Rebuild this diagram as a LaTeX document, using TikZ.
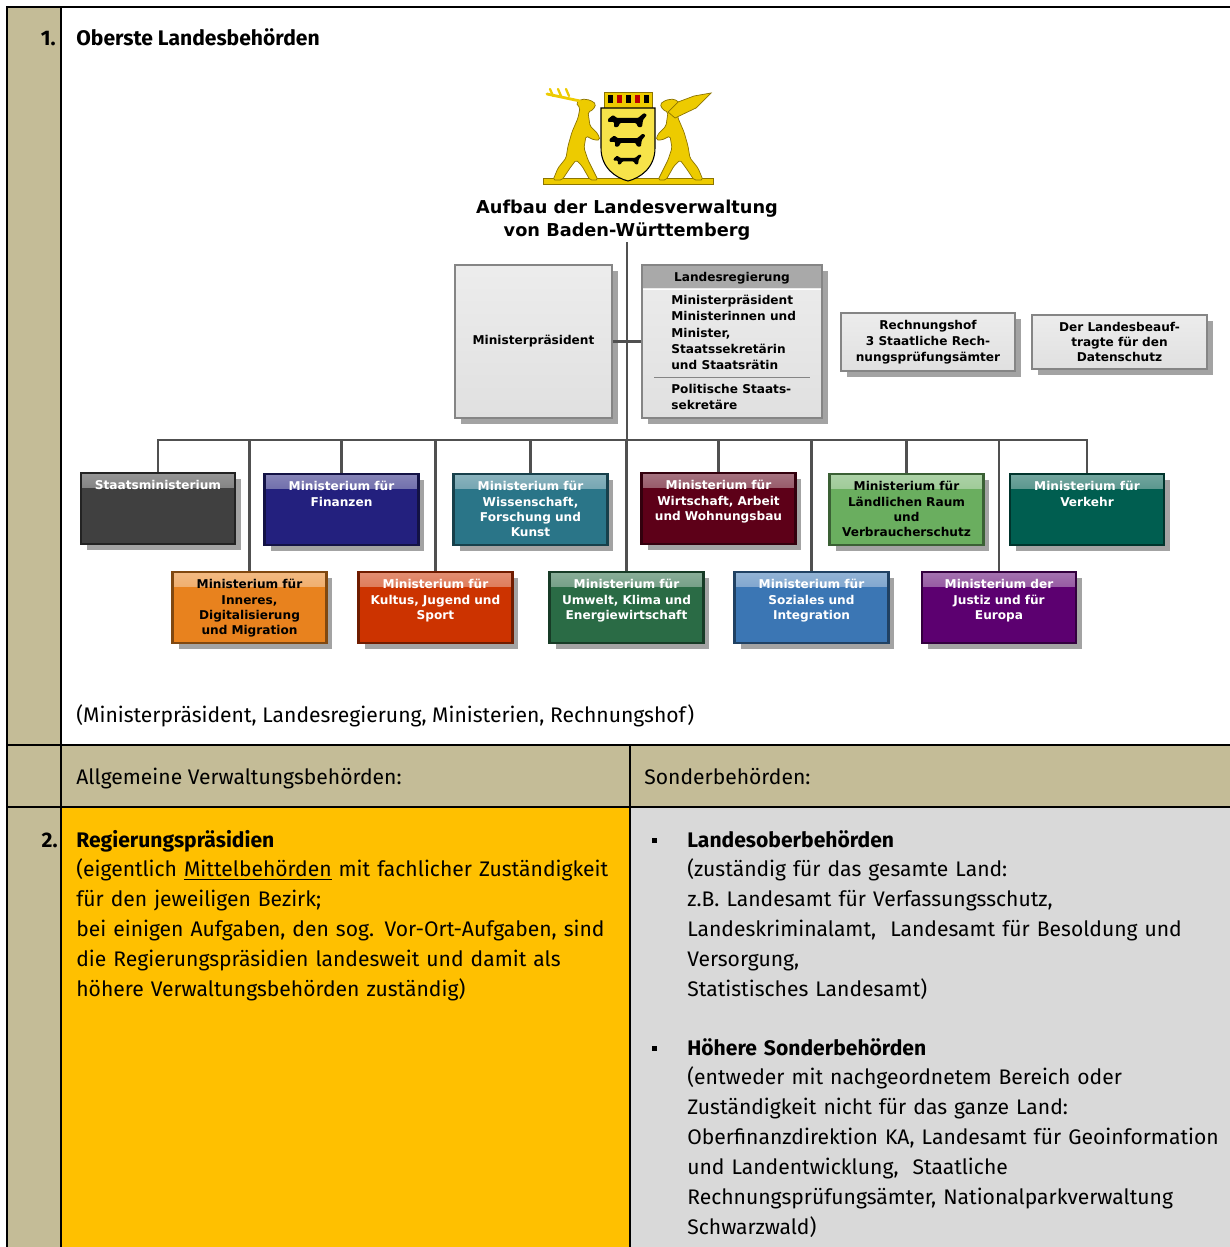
\documentclass[tikz,border=0pt]{standalone}
\usepackage{fontspec}
\setmainfont{Fira Sans}
\newfontfamily\chartfont{DejaVu Sans}
\usetikzlibrary{positioning,shadows}

\definecolor{tanbg}{HTML}{C4BC97}
\definecolor{orangebg}{HTML}{FFC000}
\definecolor{greybg}{HTML}{D9D9D9}
\definecolor{linegray}{HTML}{505050}
\definecolor{boxgray}{HTML}{E0E0E0}
\definecolor{framegray}{HTML}{858585}
\definecolor{headgray}{HTML}{A9A9A9}
\definecolor{armgold}{HTML}{EDCB00}
\definecolor{armdark}{HTML}{8C7400}
\definecolor{shieldgold}{HTML}{F7E34A}
\definecolor{staatcol}{HTML}{404040}
\definecolor{fincol}{HTML}{23207E}
\definecolor{wisscol}{HTML}{2A7588}
\definecolor{wirtcol}{HTML}{5D0018}
\definecolor{laendcol}{HTML}{6AAE5F}
\definecolor{verkcol}{HTML}{005E50}
\definecolor{inncol}{HTML}{E8821E}
\definecolor{kultcol}{HTML}{CC3300}
\definecolor{umwcol}{HTML}{2A6B45}
\definecolor{sozicol}{HTML}{3B76B4}
\definecolor{justcol}{HTML}{5C0070}

\newcommand{\chartsize}{\fontsize{6.9}{8.6}\selectfont}

\begin{document}
\begin{tikzpicture}[x=0.02cm, y=-0.02cm,
rule/.style = {line width=1.1pt},
conn/.style = {draw=linegray, line width=1.6pt},
shade box/.style = {drop shadow={shadow xshift=0.12cm, shadow yshift=-0.12cm, opacity=0.45, fill=black!80}},
grey box/.style = {top color=boxgray!60!white, bottom color=boxgray, draw=framegray, line width=1pt, shade box,
    font=\chartfont\bfseries\chartsize, align=center},
chart text/.style = {font=\chartfont\bfseries\chartsize, inner sep=0pt},
mbox/.style = {fill=#1, draw=#1!55!black, line width=1.2pt, shade box, anchor=north,
    text width=2.9cm, inner xsep=0.09cm, inner ysep=0pt, text height=9.6pt, text depth=30.6pt,
    align=center, text=white, font=\chartfont\bfseries\chartsize,
    path picture={\shade[top color=white!45!#1, bottom color=#1] (path picture bounding box.north west)
        rectangle ([yshift=-8pt]path picture bounding box.north east);}},
body/.style = {font=\fontsize{12}{17}\selectfont, inner sep=0pt, anchor=base west},
para/.style = {body, text width=12cm, align=left},
bullet sq/.style = {fill=black, minimum size=0.1cm, inner sep=0pt}]

\useasboundingbox (0,0) rectangle (1230,1247);

% table cells
\fill[white] (0,0) rectangle (1230,1247);
\fill[tanbg] (7,7) rectangle (61,1247);
\fill[tanbg] (61,745) rectangle (1230,807);
\fill[orangebg] (61,807) rectangle (630,1247);
\fill[greybg] (630,807) rectangle (1230,1247);
\draw[rule] (1230,7) -- (7,7) -- (7,1247);
\draw[rule] (61,7) -- (61,1247);
\draw[rule] (7,745) -- (1230,745);
\draw[rule] (7,807) -- (1230,807);
\draw[rule] (630,745) -- (630,1247);

% coat of arms
\fill[armgold, draw=armdark, line width=0.3pt] (543,178) rectangle (713,184);
\fill[armgold, draw=armdark, line width=0.4pt, rounded corners=1pt]
    (553,180) -- (558,168) -- (566,158) -- (568,146) -- (572,132) -- (578,118) -- (580,108)
    -- (576,103) -- (582,99) -- (590,100) -- (596,104) -- (593,110) -- (588,112) -- (590,126)
    -- (598,134) -- (600,140) -- (594,140) -- (586,136) -- (584,148) -- (588,160) -- (594,172)
    -- (598,180) -- (590,180) -- (582,166) -- (576,160) -- (570,168) -- (562,180) -- cycle;
\draw[armgold, line width=1.6pt, line cap=round] (580,101) -- (547,94);
\foreach \ax in {553,561,569}
    \draw[armgold, line width=1.3pt, line cap=round] (\ax,96) -- (\ax-3,89);
\begin{scope}[shift={(1256,0)}, xscale=-1]
\fill[armgold, draw=armdark, line width=0.4pt, rounded corners=1pt]
    (553,180) -- (558,168) -- (566,158) -- (568,146) -- (572,132) -- (578,118) -- (580,108)
    -- (576,103) -- (582,99) -- (590,100) -- (596,104) -- (593,110) -- (588,112) -- (590,126)
    -- (598,134) -- (600,140) -- (594,140) -- (586,136) -- (584,148) -- (588,160) -- (594,172)
    -- (598,180) -- (590,180) -- (582,166) -- (576,160) -- (570,168) -- (562,180) -- cycle;
\fill[armgold, draw=armdark, line width=0.4pt]
    (581,118) -- (560,108) -- (545,93) -- (562,96) -- (578,102) -- (588,112) -- cycle;
\end{scope}
\fill[armgold, draw=armdark, line width=0.4pt] (604,92) rectangle (652,108);
\foreach \cx/\cc in {608/black, 617/red!75!black, 626/black, 635/red!75!black, 644/black}
    \fill[\cc] (\cx,95) rectangle (\cx+5,103);
\filldraw[fill=shieldgold, draw=black, line width=0.6pt]
    (601,108) -- (655,108) -- (655,148) .. controls (655,168) and (640,178) .. (628,181)
    .. controls (616,178) and (601,168) .. (601,148) -- cycle;
\foreach \ly/\ls in {121/1, 141/0.92, 160/0.72}
    \fill[black, shift={(628,\ly)}, scale=\ls, rounded corners=0.5pt]
        (-20,-2) -- (-15,-6) -- (-11,-3) -- (10,-3) -- (16,-8) -- (19,-6) -- (15,-1) -- (14,6)
        -- (10,6) -- (8,2) -- (-8,2) -- (-10,6) -- (-14,6) -- (-14,1) -- (-20,1) -- cycle;

% chart
\node[font=\chartfont\bfseries\fontsize{10.1}{13}\selectfont, align=center, inner sep=1pt]
    (title) at (627,220) {Aufbau der Landesverwaltung\\von Baden-Württemberg};
\node[grey box, minimum width=3.14cm, minimum height=3.06cm] (mp) at (533.5,341.5) {Ministerpräsident};
\node[grey box, minimum width=3.6cm, minimum height=3.06cm] (lr) at (732,341.5) {};
\fill[headgray] (643,266) rectangle (821,288);
\draw[white, line width=0.8pt] (643,289.5) -- (821,289.5);
\node[chart text] (lrhead) at (732,278) {Landesregierung};
\node[chart text, anchor=north west, align=left, font=\chartfont\bfseries\fontsize{6.9}{9.2}\selectfont]
    (lrbody) at (671,295) {Ministerpräsident\\Ministerinnen und\\Minister,\\Staatssekretärin\\und Staatsrätin};
\draw[framegray, line width=0.5pt] (654,377) -- (810,377);
\node[chart text, anchor=north west, align=left, font=\chartfont\bfseries\fontsize{6.9}{9.2}\selectfont]
    (lrpol) at (671,384) {Politische Staats-\\sekretäre};
\node[grey box, minimum width=3.48cm, minimum height=1.16cm, font=\chartfont\bfseries\fontsize{6.9}{9}\selectfont]
    (rh) at (928,342) {Rechnungshof\\3 Staatliche Rech-\\nungsprüfungsämter};
\node[grey box, minimum width=3.5cm, minimum height=1.08cm] (ds) at (1119.5,342) {Der Landesbeauf-\\tragte für den\\Datenschutz};

\node[mbox=staatcol] (staat) at (158,472) {Staatsministerium};
\node[mbox=fincol] (fin) at (341.5,473) {Ministerium für\\Finanzen};
\node[mbox=wisscol] (wiss) at (530.5,473) {Ministerium für\\Wissenschaft,\\Forschung und\\Kunst};
\node[mbox=wirtcol] (wirt) at (718.5,472) {Ministerium für\\Wirtschaft, Arbeit\\und Wohnungsbau};
\node[mbox=laendcol, text=black] (laend) at (906.5,473) {Ministerium für\\Ländlichen Raum\\und\\Verbraucherschutz};
\node[mbox=verkcol] (verk) at (1087,473) {Ministerium für\\Verkehr};
\node[mbox=inncol, text=black] (inn) at (249.5,571) {Ministerium für\\Inneres,\\Digitalisierung\\und Migration};
\node[mbox=kultcol] (kult) at (435.5,571) {Ministerium für\\Kultus, Jugend und\\Sport};
\node[mbox=umwcol] (umw) at (626.5,571) {Ministerium für\\Umwelt, Klima und\\Energiewirtschaft};
\node[mbox=sozicol] (sozi) at (811.5,571) {Ministerium für\\Soziales und\\Integration};
\node[mbox=justcol] (just) at (999,571) {Ministerium der\\Justiz und für\\Europa};

\coordinate (bar) at (627,440);
\draw[conn] (title) -- (bar);
\draw[conn] (mp) -- (lr);
\foreach \m in {staat,fin,wiss,wirt,laend,verk,inn,kult,umw,sozi,just}
    \draw[conn] (\m.north) |- (bar);

% table text
\node[body, anchor=base east] (num1) at (56,46) {\textbf{1.}};
\node[body] (head1) at (76,46) {\textbf{Oberste Landesbehörden}};
\node[body] (note) at (76,722) {(Ministerpräsident, Landesregierung, Ministerien, Rechnungshof)};
\node[body] (colA) at (76,784) {Allgemeine Verwaltungsbehörden:};
\node[body] (colB) at (644,784) {Sonderbehörden:};
\node[body, anchor=base east] (num2) at (58,847) {\textbf{2.}};
\node[para] (rp) at (76,847) {\textbf{Regierungspräsidien}\\(eigentlich \underline{Mittelbehörden} mit fachlicher Zuständigkeit\\für den jeweiligen Bezirk;\\bei einigen Aufgaben, den sog. Vor-Ort-Aufgaben, sind\\die Regierungspräsidien landesweit und damit als\\höhere Verwaltungsbehörden zuständig)};
\node[bullet sq] (b1) at (654,840) {};
\node[para] (lob) at (687,847) {\textbf{Landesoberbehörden}\\(zuständig für das gesamte Land:\\z.B. Landesamt für Verfassungsschutz,\\Landeskriminalamt,\ \ Landesamt für Besoldung und\\Versorgung,\\Statistisches Landesamt)};
\node[bullet sq] (b2) at (654,1048) {};
\node[para] (hsb) at (687,1055) {\textbf{Höhere Sonderbehörden}\\(entweder mit nachgeordnetem Bereich oder\\Zuständigkeit nicht für das ganze Land:\\Oberfinanzdirektion KA, Landesamt für Geoinformation\\und Landentwicklung,\ \ Staatliche\\Rechnungsprüfungsämter, Nationalparkverwaltung\\Schwarzwald)};
\end{tikzpicture}
\end{document}
